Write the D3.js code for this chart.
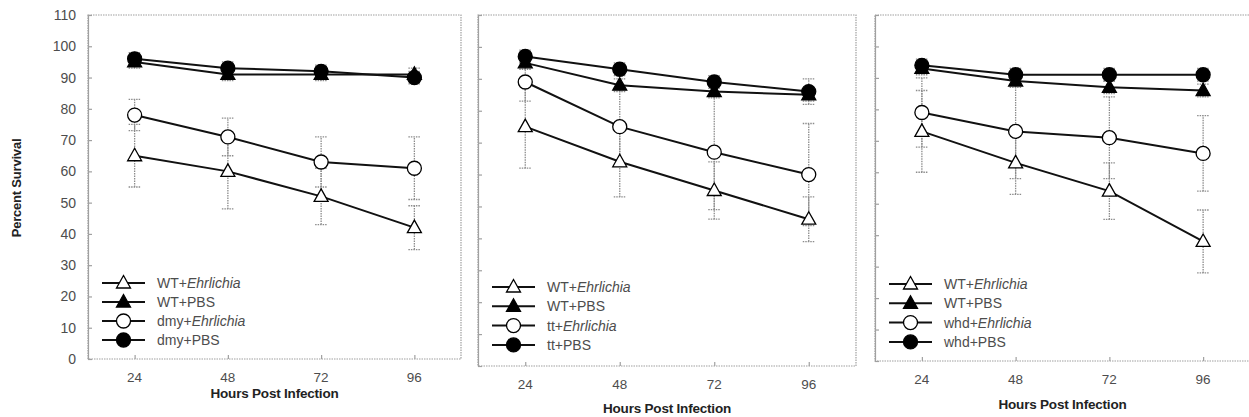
<!DOCTYPE html>
<html><head><meta charset="utf-8">
<script src="https://cdn.jsdelivr.net/npm/d3@7"></script>
<style>body{margin:0;background:#fff}svg{display:block}text{font-family:"Liberation Sans",Arial,sans-serif}</style>
</head><body><svg id="c" width="1249" height="417"></svg>
<script>
// ---- data ----
const hours = [24, 48, 72, 96];
const yTickValues = [0, 10, 20, 30, 40, 50, 60, 70, 80, 90, 100, 110];

// Panel 1: dmy
const names1 = ["WT+Ehrlichia", "WT+PBS", "dmy+Ehrlichia", "dmy+PBS"];
const wtEhr1 = [65, 60, 52, 42];   const wtEhr1Err = [10, 12, 9, 7];
const wtPbs1 = [95, 91, 91, 91];   const wtPbs1Err = [2, 2, 2, 2];
const mutEhr1 = [78, 71, 63, 61];  const mutEhr1Err = [5, 6, 8, 10];
const mutPbs1 = [96, 93, 92, 90];  const mutPbs1Err = [2, 2, 2, 2];

// Panel 2: tt
const names2 = ["WT+Ehrlichia", "WT+PBS", "tt+Ehrlichia", "tt+PBS"];
const wtEhr2 = [75, 64, 55, 46];   const wtEhr2Err = [13, 11, 9, 7];
const wtPbs2 = [95, 88, 86, 85];   const wtPbs2Err = [2, 2, 2, 2];
const mutEhr2 = [89, 75, 67, 60];  const mutEhr2Err = [6, 12, 18, 16];
const mutPbs2 = [97, 93, 89, 86];  const mutPbs2Err = [2, 2, 2, 4];

// Panel 3: whd
const names3 = ["WT+Ehrlichia", "WT+PBS", "whd+Ehrlichia", "whd+PBS"];
const wtEhr3 = [73, 63, 54, 38];   const wtEhr3Err = [13, 10, 9, 10];
const wtPbs3 = [93, 89, 87, 86];   const wtPbs3Err = [2, 2, 2, 2];
const mutEhr3 = [79, 73, 71, 66];  const mutEhr3Err = [11, 15, 13, 12];
const mutPbs3 = [94, 91, 91, 91];  const mutPbs3Err = [2, 2, 2, 2];

const xTitle = "Hours Post Infection";
const yTitle = "Percent Survival";

// ---- layout ----
const markerKinds = ["triOpen", "triFilled", "circOpen", "circFilled"];
const panels = [
  {names: names1, vals: [wtEhr1, wtPbs1, mutEhr1, mutPbs1], errs: [wtEhr1Err, wtPbs1Err, mutEhr1Err, mutPbs1Err],
   left: 88, right: 461, top: 15, bottom: 359, yLabels: true, titleY: 398, legX: 102, legY: 283, legDy: 19},
  {names: names2, vals: [wtEhr2, wtPbs2, mutEhr2, mutPbs2], errs: [wtEhr2Err, wtPbs2Err, mutEhr2Err, mutPbs2Err],
   left: 478, right: 856, top: 15, bottom: 366, yLabels: false, titleY: 413, legX: 492, legY: 287, legDy: 19.3},
  {names: names3, vals: [wtEhr3, wtPbs3, mutEhr3, mutPbs3], errs: [wtEhr3Err, wtPbs3Err, mutEhr3Err, mutPbs3Err],
   left: 875, right: 1250, top: 15, bottom: 361, yLabels: false, titleY: 409, legX: 889, legY: 284, legDy: 19.3}
];

const svg = d3.select("#c");
const textCol = "#4d4d4d";
const gridCol = "#a0a0a0";

function drawMarker(g, kind, x, y) {
  if (kind.startsWith("tri")) {
    g.append("path")
      .attr("d", `M${x},${y - 7.5}L${x + 7},${y + 5}L${x - 7},${y + 5}Z`)
      .attr("fill", kind === "triOpen" ? "#fff" : "#000")
      .attr("stroke", "#000").attr("stroke-width", 1.3);
  } else {
    g.append("circle").attr("cx", x).attr("cy", y).attr("r", 7)
      .attr("fill", kind === "circOpen" ? "#fff" : "#000")
      .attr("stroke", "#000").attr("stroke-width", 1.3);
  }
}

panels.forEach(p => {
  const g = svg.append("g");
  const x = d3.scaleLinear().domain([12, 108]).range([p.left, p.right]);
  const y = d3.scaleLinear().domain([0, 110]).range([p.bottom, p.top]);

  // frame (dotted)
  g.append("rect").attr("x", p.left).attr("y", p.top)
    .attr("width", p.right - p.left).attr("height", p.bottom - p.top)
    .attr("fill", "none").attr("stroke", gridCol).attr("stroke-width", 1.2)
    .attr("stroke-dasharray", "1.5,1");
  // left axis
  const yAxis = d3.axisRight(y).tickValues(yTickValues).tickSize(4).tickFormat("");
  const ya = g.append("g").attr("transform", `translate(${p.left},0)`).call(yAxis);
  ya.selectAll("path,line").attr("stroke", gridCol).attr("stroke-width", 1.2);
  // x ticks inward
  const xAxis = d3.axisTop(x).tickValues(hours).tickSize(4).tickFormat("");
  const xa = g.append("g").attr("transform", `translate(0,${p.bottom})`).call(xAxis);
  xa.select(".domain").remove();
  xa.selectAll("line").attr("stroke", gridCol).attr("stroke-width", 1.2);

  // tick labels
  g.selectAll(".xl").data(hours).join("text")
    .attr("x", d => x(d)).attr("y", p.bottom + 23)
    .attr("text-anchor", "middle").attr("font-size", 13.5).attr("fill", textCol)
    .text(d => d);
  if (p.yLabels) {
    g.selectAll(".yl").data(yTickValues).join("text")
      .attr("x", p.left - 12).attr("y", d => y(d) + 5)
      .attr("text-anchor", "end").attr("font-size", 14).attr("fill", textCol)
      .text(d => d);
  }
  // axis title
  g.append("text").attr("x", (x(24) + x(96)) / 2).attr("y", p.titleY)
    .attr("text-anchor", "middle").attr("font-size", 13.5).attr("font-weight", "bold")
    .attr("fill", "#222").attr("letter-spacing", -0.2).text(xTitle);

  // error bars
  p.vals.forEach((vals, si) => {
    vals.forEach((v, i) => {
      const e = p.errs[si][i];
      const cx = x(hours[i]);
      const eg = g.append("g").attr("stroke", "#8c8c8c").attr("stroke-width", 1.3).attr("stroke-dasharray", "1.5,1");
      eg.append("line").attr("x1", cx).attr("x2", cx).attr("y1", y(v - e)).attr("y2", y(v + e));
      [v - e, v + e].forEach(t => eg.append("line").attr("x1", cx - 6).attr("x2", cx + 6).attr("y1", y(t)).attr("y2", y(t)));
    });
  });
  // lines
  const line = d3.line().x((d, i) => x(hours[i])).y(d => y(d));
  p.vals.forEach(vals => {
    g.append("path").attr("d", line(vals)).attr("fill", "none")
      .attr("stroke", "#111").attr("stroke-width", 2);
  });
  // markers
  p.vals.forEach((vals, si) => {
    vals.forEach((v, i) => drawMarker(g, markerKinds[si], x(hours[i]), y(v)));
  });

  // legend
  p.names.forEach((n, si) => {
    const ly = p.legY + si * p.legDy;
    g.append("line").attr("x1", p.legX).attr("x2", p.legX + 43).attr("y1", ly).attr("y2", ly)
      .attr("stroke", "#111").attr("stroke-width", 2);
    drawMarker(g, markerKinds[si], p.legX + 21.5, ly);
    const parts = n.split("+");
    const t = g.append("text").attr("x", p.legX + 55).attr("y", ly + 5)
      .attr("font-size", 14).attr("fill", textCol);
    t.append("tspan").text(parts[0] + "+");
    t.append("tspan").attr("font-style", parts[1] === "PBS" ? "normal" : "italic").text(parts[1]);
  });
});

// y title
svg.append("text").attr("transform", "translate(21,188) rotate(-90)")
  .attr("text-anchor", "middle").attr("font-size", 13).attr("font-weight", "bold")
  .attr("fill", "#222").attr("letter-spacing", -0.2).text(yTitle);
</script></body></html>
